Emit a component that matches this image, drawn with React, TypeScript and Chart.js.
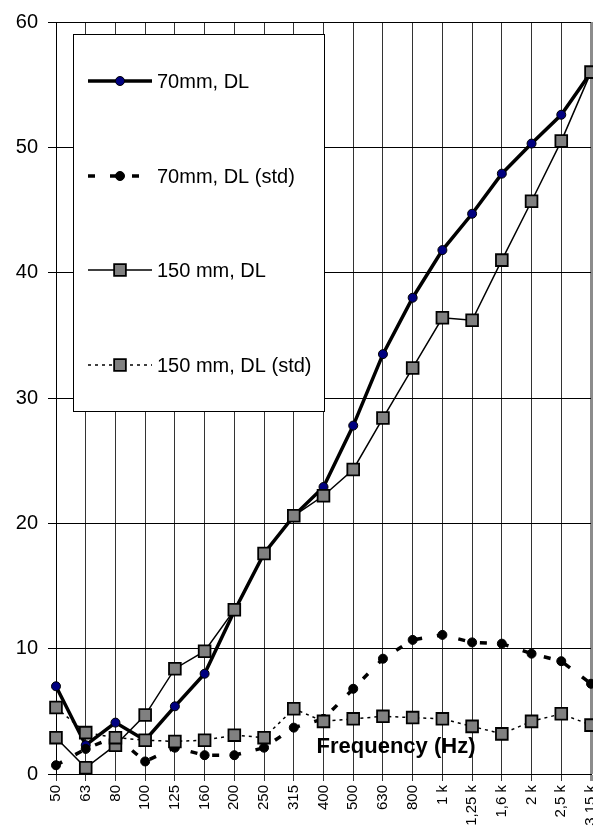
import React, { useEffect, useRef } from 'react';
import { Chart, registerables } from 'chart.js';

Chart.register(...registerables);

const categories = ['50', '63', '80', '100', '125', '160', '200', '250', '315', '400', '500', '630', '800', '1 k', '1,25 k', '1,6 k', '2 k', '2,5 k', '3,15 k'];
const dl70 = [7.0, 2.3, 4.1, 2.7, 5.4, 8.0, 13.0, 17.6, 20.6, 22.9, 27.8, 33.5, 38.0, 41.8, 44.7, 47.9, 50.3, 52.6, 56.0];
const std70 = [0.7, 2.0, 3.0, 1.0, 2.1, 1.5, 1.5, 2.1, 3.7, 4.4, 6.8, 9.2, 10.7, 11.1, 10.5, 10.4, 9.6, 9.0, 7.2];
const dl150 = [2.9, 0.5, 2.3, 4.7, 8.4, 9.8, 13.1, 17.6, 20.6, 22.2, 24.3, 28.4, 32.4, 36.4, 36.2, 41.0, 45.7, 50.5, 56.0];
const std150 = [5.3, 3.3, 2.9, 2.7, 2.6, 2.7, 3.1, 2.9, 5.2, 4.2, 4.4, 4.6, 4.5, 4.4, 3.8, 3.2, 4.2, 4.8, 3.9];
const seriesNames = ['70mm, DL', '70mm, DL (std)', '150 mm, DL', '150 mm, DL (std)'];
const yMin = 0;
const yMax = 60;
const yStep = 10;
const axisTitle = 'Frequency (Hz)';

const FONT = 'Arial, "Liberation Sans", Helvetica, sans-serif';

const overlayPlugin = {
  id: 'overlay',
  afterDraw(chart: any) {
    const { ctx, chartArea } = chart;
    ctx.save();
    ctx.font = `bold 22px ${FONT}`;
    ctx.fillStyle = '#000';
    ctx.textAlign = 'center';
    ctx.textBaseline = 'alphabetic';
    ctx.fillText(axisTitle, chartArea.left + 340, chartArea.bottom - 21);

    const bx = chartArea.left + 17;
    const by = chartArea.top + 12;
    const bw = 251;
    const bh = 377;
    ctx.fillStyle = '#fff';
    ctx.fillRect(bx, by, bw, bh);
    ctx.strokeStyle = '#000';
    ctx.lineWidth = 1;
    ctx.setLineDash([]);
    ctx.strokeRect(bx + 0.5, by + 0.5, bw, bh);

    const rowsY = [by + 47, by + 142, by + 236, by + 331];
    chart.data.datasets.forEach((ds: any, i: number) => {
      const y = rowsY[i];
      const x0 = bx + 15;
      const x1 = bx + 79;
      const mx = bx + 47;
      ctx.save();
      ctx.strokeStyle = ds.borderColor;
      ctx.lineWidth = ds.borderWidth;
      ctx.setLineDash(ds.borderDash || []);
      ctx.beginPath();
      ctx.moveTo(x0, y);
      ctx.lineTo(x1, y);
      ctx.stroke();
      ctx.setLineDash([]);
      ctx.fillStyle = ds.pointBackgroundColor;
      ctx.strokeStyle = ds.pointBorderColor;
      ctx.lineWidth = ds.pointBorderWidth;
      if (ds.pointStyle === 'rect') {
        const s = ds.pointRadius * Math.SQRT1_2;
        ctx.beginPath();
        ctx.rect(mx - s, y - s, 2 * s, 2 * s);
        ctx.fill();
        ctx.stroke();
      } else {
        ctx.beginPath();
        ctx.arc(mx, y, ds.pointRadius, 0, Math.PI * 2);
        ctx.fill();
        ctx.stroke();
      }
      ctx.fillStyle = '#000';
      ctx.font = `20px ${FONT}`;
      ctx.textAlign = 'left';
      ctx.textBaseline = 'middle';
      ctx.fillText(ds.label, bx + 84, y + 1);
      ctx.restore();
    });
    ctx.restore();
  },
};

export default function App() {
  const canvasRef = useRef<HTMLCanvasElement | null>(null);

  useEffect(() => {
    const canvas = canvasRef.current;
    if (!canvas) return;
    const last = categories.length - 1;
    const chart = new Chart(canvas, {
      type: 'line',
      data: {
        labels: categories,
        datasets: [
          {
            label: seriesNames[0],
            data: dl70,
            borderColor: '#000',
            borderWidth: 3.5,
            pointStyle: 'circle',
            pointRadius: 4.5,
            pointBackgroundColor: '#000080',
            pointBorderColor: '#000',
            pointBorderWidth: 1,
            tension: 0,
            fill: false,
            order: 3,
            clip: false,
          } as any,
          {
            label: seriesNames[1],
            data: std70,
            borderColor: '#000',
            borderWidth: 3.5,
            borderDash: [7, 15],
            pointStyle: 'circle',
            pointRadius: 4.5,
            pointBackgroundColor: '#000',
            pointBorderColor: '#000',
            pointBorderWidth: 1,
            tension: 0,
            fill: false,
            order: 2,
            clip: false,
          },
          {
            label: seriesNames[2],
            data: dl150,
            borderColor: '#000',
            borderWidth: 1.5,
            pointStyle: 'rect',
            pointRadius: 8.3,
            pointBackgroundColor: '#808080',
            pointBorderColor: '#000',
            pointBorderWidth: 1.8,
            tension: 0,
            fill: false,
            order: 1,
            clip: false,
          },
          {
            label: seriesNames[3],
            data: std150,
            borderColor: '#000',
            borderWidth: 1.5,
            borderDash: [3, 4],
            pointStyle: 'rect',
            pointRadius: 8.3,
            pointBackgroundColor: '#808080',
            pointBorderColor: '#000',
            pointBorderWidth: 1.8,
            tension: 0,
            fill: false,
            order: 0,
            clip: false,
          },
        ],
      },
      options: {
        responsive: false,
        animation: false,
        devicePixelRatio: 1,
        layout: { autoPadding: false, padding: { top: 22, right: 2, left: 0, bottom: 0 } },
        plugins: {
          legend: { display: false },
          tooltip: { enabled: false },
          title: { display: false },
        },
        scales: {
          x: {
            type: 'category',
            offset: false,
            grid: {
              color: (c: any) => (c.index === last ? '#8c8c8c' : '#333'),
              lineWidth: (c: any) => (c.index === last ? 3 : 1),
              tickLength: 7,
            },
            border: { color: '#000', width: 1 },
            ticks: {
              autoSkip: false,
              maxRotation: 90,
              minRotation: 90,
              color: '#000',
              padding: 4,
              font: { family: FONT, size: 15 },
            },
            afterFit: (s: any) => {
              s.height = 54;
              s.paddingLeft = 0;
              s.paddingRight = 0;
            },
          },
          y: {
            min: yMin,
            max: yMax,
            ticks: {
              stepSize: yStep,
              color: '#000',
              padding: 10,
              font: { family: FONT, size: 20 },
            },
            grid: { color: '#000', lineWidth: 1, tickLength: 8 },
            border: { color: '#000', width: 1 },
            afterFit: (s: any) => {
              s.width = 56;
              s.paddingTop = 0;
              s.paddingBottom = 0;
            },
          },
        },
      },
      plugins: [overlayPlugin],
    });
    return () => chart.destroy();
  }, []);

  return (
    <div style={{ position: 'absolute', left: 0, top: 0, width: 593, height: 828, overflow: 'hidden', background: '#fff' }}>
      <canvas ref={canvasRef} width={593} height={828} style={{ display: 'block' }} />
    </div>
  );
}
